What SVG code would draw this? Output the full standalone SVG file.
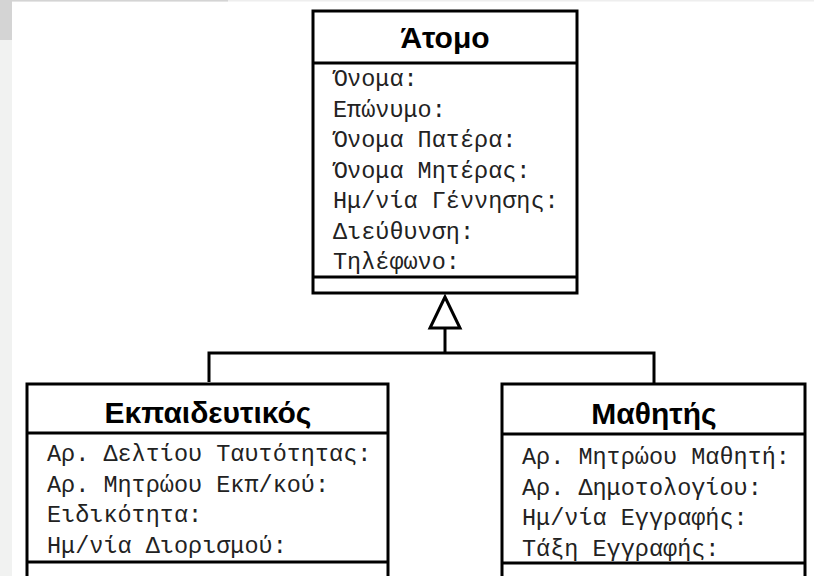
<svg xmlns="http://www.w3.org/2000/svg" width="814" height="576" viewBox="0 0 814 576">
<style>
.box{fill:#fff;stroke:#000;stroke-width:3}
.ln{stroke:#000;stroke-width:3;fill:none}
.title{font-family:"Liberation Sans",Arial,sans-serif;font-weight:bold;font-size:30px;fill:#000;text-anchor:middle}
.attr{font-family:"Liberation Mono","Courier New",monospace;font-size:23.5px;fill:#222}
</style>
<rect x="0" y="0" width="814" height="576" fill="#fff"/>
<rect x="0" y="0" width="12" height="576" fill="#f1f2f1"/>
<rect x="0" y="0" width="12" height="40" fill="#d4d4d4"/>
<rect x="12" y="0" width="802" height="1.5" fill="#eeeeee"/>
<rect x="12" y="0" width="216" height="1.5" fill="#d4d4d4"/>

<g id="connectors">
<polyline class="ln" points="209,382 209,353 654,353 654,384"/>
<line class="ln" x1="445" y1="353" x2="445" y2="328"/>
<polygon class="ln" fill="#fff" points="445,297 430,328 460,328"/>
</g>

<g id="atomo">
<rect class="box" x="313" y="11" width="264" height="282"/>
<line class="ln" x1="313" y1="63" x2="577" y2="63"/>
<line class="ln" x1="313" y1="277" x2="577" y2="277"/>
<text class="title" x="445" y="48">Άτομο</text>
<text class="attr" x="333" y="86">Όνομα:</text>
<text class="attr" x="333" y="116.5">Επώνυμο:</text>
<text class="attr" x="333" y="147">Όνομα Πατέρα:</text>
<text class="attr" x="333" y="177.5">Όνομα Μητέρας:</text>
<text class="attr" x="333" y="208">Ημ/νία Γέννησης:</text>
<text class="attr" x="333" y="238.5">Διεύθυνση:</text>
<text class="attr" x="333" y="269">Τηλέφωνο:</text>
</g>

<g id="ekpaideutikos">
<rect class="box" x="27" y="384" width="361" height="200"/>
<line class="ln" x1="27" y1="433" x2="388" y2="433"/>
<line class="ln" x1="27" y1="562" x2="388" y2="562"/>
<text class="title" x="208" y="423">Εκπαιδευτικός</text>
<text class="attr" x="47" y="461">Αρ. Δελτίου Ταυτότητας:</text>
<text class="attr" x="47" y="491.5">Αρ. Μητρώου Εκπ/κού:</text>
<text class="attr" x="47" y="522">Ειδικότητα:</text>
<text class="attr" x="47" y="552.5">Ημ/νία Διορισμού:</text>
</g>

<g id="mathitis">
<rect class="box" x="502" y="384" width="303" height="200"/>
<line class="ln" x1="502" y1="434" x2="805" y2="434"/>
<line class="ln" x1="502" y1="563" x2="805" y2="563"/>
<text class="title" x="654" y="424">Μαθητής</text>
<text class="attr" x="522" y="464">Αρ. Μητρώου Μαθητή:</text>
<text class="attr" x="522" y="494.5">Αρ. Δημοτολογίου:</text>
<text class="attr" x="522" y="525">Ημ/νία Εγγραφής:</text>
<text class="attr" x="522" y="555.5">Τάξη Εγγραφής:</text>
</g>
</svg>
